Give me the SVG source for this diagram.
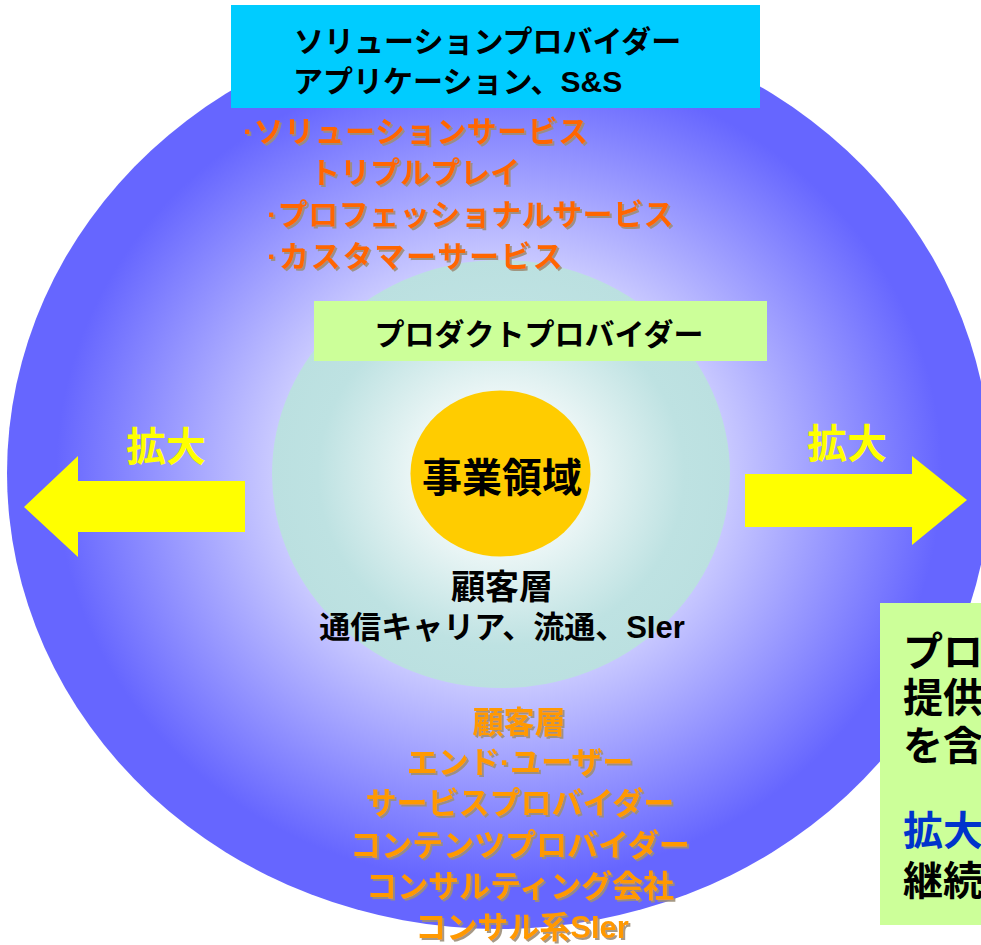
<svg xmlns="http://www.w3.org/2000/svg" width="981" height="945" viewBox="0 0 981 945">
<defs>
<radialGradient id="gOuter" cx="0.5" cy="0.5" r="0.5">
<stop offset="0" stop-color="#CCCCFF"/>
<stop offset="0.45" stop-color="#CCCCFF"/>
<stop offset="0.9" stop-color="#6666FF"/>
<stop offset="1" stop-color="#6666FF"/>
</radialGradient>
<radialGradient id="gInner" cx="0.5" cy="0.5" r="0.5">
<stop offset="0" stop-color="#FFFFFF"/>
<stop offset="0.35" stop-color="#EEF7F7"/>
<stop offset="0.8" stop-color="#BEE2E2"/>
<stop offset="1" stop-color="#BBE0E0"/>
</radialGradient>
<filter id="shadow" x="-5%" y="-20%" width="110%" height="140%">
<feDropShadow dx="2" dy="2" stdDeviation="0.3" flood-color="#9C8E78" flood-opacity="0.9"/>
</filter>
</defs>
<style>
text{font-family:"Liberation Sans","Noto Sans CJK JP",sans-serif;font-weight:bold}
.blk{fill:#000000}
.or1{fill:#FF6600;font-size:30px}
.or2{fill:#FF9900;font-size:31px}
.yel{fill:#FFFF00;font-size:40px}
.arrow{fill:#FFFF00}
</style>

<g id="outer-circle">
<ellipse cx="499" cy="473" rx="492" ry="456" fill="url(#gOuter)"/>
</g>
<g id="inner-circle">
<ellipse cx="501" cy="474" rx="229" ry="214" fill="url(#gInner)"/>
</g>
<g id="core">
<ellipse cx="500.5" cy="473.5" rx="90" ry="83" fill="#FFCC00"/>
<text class="blk" x="502" y="492" font-size="40" text-anchor="middle">事業領域</text>
</g>

<g id="solution-provider">
<rect x="231" y="5" width="529" height="103" fill="#00CCFF"/>
<text class="blk" x="294" y="52" font-size="30">ソリューションプロバイダー</text>
<text class="blk" x="293" y="92" font-size="30">アプリケーション、S&amp;S</text>
</g>

<g id="services" filter="url(#shadow)">
<text class="or1" x="243" y="142" letter-spacing="0.5">·ソリューションサービス</text>
<text class="or1" x="310" y="183">トリプルプレイ</text>
<text class="or1" x="267" y="225" letter-spacing="0.5">·プロフェッショナルサービス</text>
<text class="or1" x="267" y="267" letter-spacing="1.8">·カスタマーサービス</text>
</g>

<g id="product-provider">
<rect x="314" y="301" width="453" height="60" fill="#CCFF99"/>
<text class="blk" x="539" y="345" font-size="30" text-anchor="middle">プロダクトプロバイダー</text>
</g>

<g id="inner-customers">
<text class="blk" x="502" y="599" font-size="34" text-anchor="middle">顧客層</text>
<text class="blk" x="502" y="638" font-size="31" text-anchor="middle">通信キャリア、流通、SIer</text>
</g>

<g id="outer-customers" filter="url(#shadow)">
<text class="or2" x="519" y="733" font-size="34" text-anchor="middle">顧客層</text>
<text class="or2" x="520" y="773" text-anchor="middle">エンド·ユーザー</text>
<text class="or2" x="520" y="814" text-anchor="middle">サービスプロバイダー</text>
<text class="or2" x="520" y="856" text-anchor="middle">コンテンツプロバイダー</text>
<text class="or2" x="520" y="897" text-anchor="middle">コンサルティング会社</text>
<text class="or2" x="522" y="938" text-anchor="middle">コンサル系SIer</text>
</g>

<g id="arrows">
<polygon class="arrow" points="245,481 78,481 78,456 24,507 78,557 78,532 245,532"/>
<polygon class="arrow" points="745,474 912,474 912,456 967,500 912,545 912,527 745,527"/>
</g>
<g id="expand-left">
<text class="yel" x="166" y="461" text-anchor="middle">拡大</text>
</g>
<g id="expand-right">
<text class="yel" x="847" y="458" text-anchor="middle">拡大</text>
</g>

<g id="note-box">
<rect x="880" y="603" width="110" height="322" fill="#CCFF99"/>
<text class="blk" x="903" y="666" font-size="40">プロ</text>
<text class="blk" x="903" y="712" font-size="40">提供</text>
<text class="blk" x="903" y="760" font-size="40">を含</text>
<text x="903" y="845" font-size="40" fill="#0033CC">拡大</text>
<text class="blk" x="903" y="895" font-size="40">継続</text>
</g>
</svg>
